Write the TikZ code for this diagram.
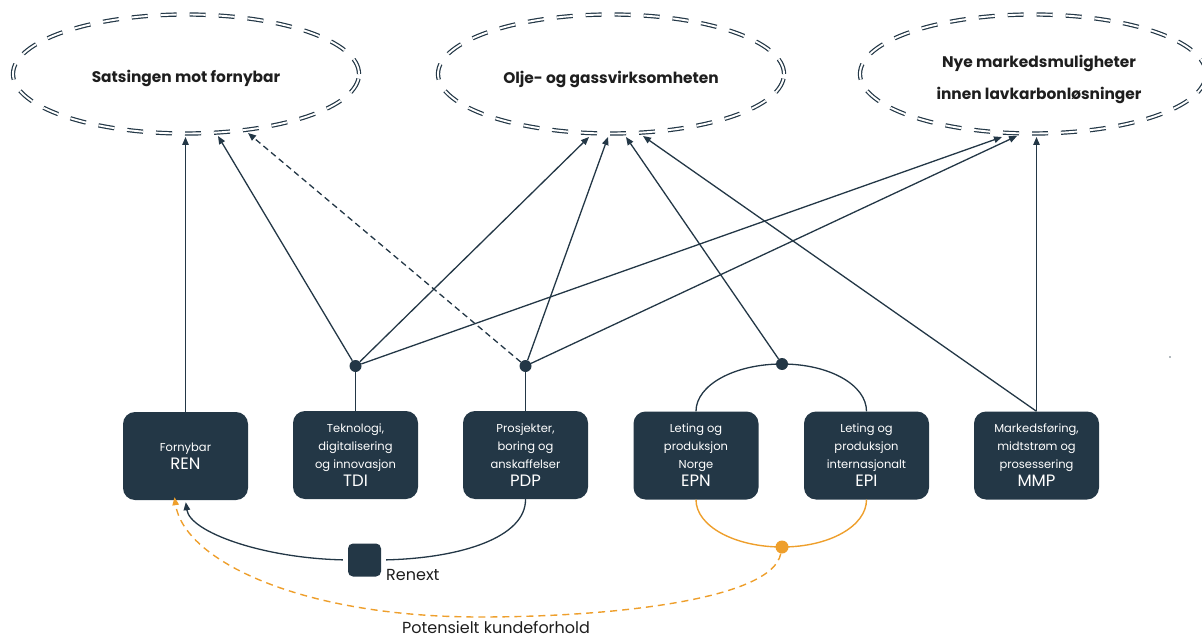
\documentclass[tikz,border=0pt]{standalone}
\usepackage{fontspec}
\setmainfont{Poppins}
\usetikzlibrary{arrows.meta,shapes.geometric}
\definecolor{navy}{HTML}{233746}
\definecolor{amber}{HTML}{EE9F2C}
\definecolor{ink}{HTML}{1E1E1E}
\begin{document}
\begin{tikzpicture}[x=1pt,y=-1pt,
  unit/.style={fill=navy, rounded corners=12pt, minimum width=125pt, minimum height=88pt,
    inner sep=2pt, text=white, align=center, font=\fontsize{11.5}{18}\selectfont},
  goal/.style={ellipse, draw=navy, line width=1.2pt, double=white, double distance=1.9pt,
    dash pattern=on 16pt off 13pt, minimum width=346pt, minimum height=119pt, inner sep=0pt},
  goaltext/.style={align=center, text=ink, inner sep=0pt, font=\bfseries\fontsize{15.4}{32}\selectfont},
  link/.style={draw=navy, line width=1.3pt},
  arr/.style={link, -{Triangle[length=8pt,width=6.5pt]}},
  hub/.style={circle, fill=navy, minimum size=12pt, inner sep=0pt},
  warm/.style={draw=amber, line width=1.4pt},
  plain/.style={text=ink, font=\fontsize{16}{18}\selectfont, inner sep=0pt}
]
\useasboundingbox (0,0) rectangle (1202,639);
\newcommand\unitcode[1]{{\fontsize{16.5}{19}\selectfont #1}}

% strategic goals
\node[goal] (gren) at (186,74) {};
\node[goal] (goil) at (611,74) {};
\node[goal] (gnew) at (1033,74) {};
\node[goaltext] (tren) at (186,78) {Satsingen mot fornybar};
\node[goaltext] (toil) at (611,79) {Olje- og gassvirksomheten};
\node[goaltext] (tnew) at (1039,79) {Nye markedsmuligheter\\innen lavkarbonløsninger};

% arrow targets on the goal outlines
\coordinate (f1) at (185.5,137);
\coordinate (f2) at (218,136);
\coordinate (f3) at (248,133);
\coordinate (o1) at (589,137);
\coordinate (o2) at (608,137);
\coordinate (o3) at (626,137);
\coordinate (o4) at (643,136);
\coordinate (n1) at (1002,137);
\coordinate (n2) at (1017,136);
\coordinate (n3) at (1036.5,137);

% business areas
\node[unit] (ren) at (185.5,456) {Fornybar\\\unitcode{REN}};
\node[unit] (tdi) at (355.5,455) {Teknologi,\\digitalisering\\og innovasjon\\\unitcode{TDI}};
\node[unit] (pdp) at (525.5,455) {Prosjekter,\\boring og\\anskaffelser\\\unitcode{PDP}};
\node[unit] (epn) at (696,455.5) {Leting og\\produksjon\\Norge\\\unitcode{EPN}};
\node[unit] (epi) at (866.5,455.5) {Leting og\\produksjon\\internasjonalt\\\unitcode{EPI}};
\node[unit] (mmp) at (1036.5,455.5) {Markedsføring,\\midtstrøm og\\prosessering\\\unitcode{MMP}};

% junction points
\node[hub] (hT) at (355.5,366) {};
\node[hub] (hP) at (525.5,366) {};
\node[hub] (hE) at (782,364) {};
\node[circle, fill=amber, minimum size=13pt, inner sep=0pt] (hO) at (782,547) {};

% Renext
\node[fill=navy, rounded corners=5pt, minimum width=33pt, minimum height=33pt, inner sep=0pt] (rx) at (364.5,560) {};
\node[plain, anchor=west] (rxl) at (386,575) {Renext};

% links to the goals
\draw[arr] (ren.north) -- (f1);
\draw[link] (tdi.north) -- (hT);
\draw[link] (pdp.north) -- (hP);
\draw[arr] (hT) -- (f2);
\draw[arr] (hT) -- (o1);
\draw[arr] (hT) -- (n1);
\draw[arr, dash pattern=on 6pt off 4pt] (hP) -- (f3);
\draw[arr] (hP) -- (o2);
\draw[arr] (hP) -- (n2);
\draw[arr] (hE) -- (o3);
\draw[arr] (mmp.north) -- (o4);
\draw[arr] (mmp.north) -- (n3);

% exploration and production pair
\draw[link] (epn.north) .. controls (696,385) and (734.5,364) .. (hE.center)
  .. controls (829.5,364) and (866.5,385) .. (epi.north);
\draw[warm] (epn.south) .. controls (696,526) and (734.5,547) .. (hO.center)
  .. controls (829.5,547) and (866.5,526) .. (epi.south);

% Renext link
\draw[link, shorten >=5pt] (pdp.south) .. controls (526,537) and (462,558) .. (rx.east);
\draw[arr, shorten <=5pt, shorten >=2pt] (rx.west) .. controls (262,558) and (190,532) .. (ren.south);

% potential customer relation
\coordinate (low) at (480,617);
\draw[warm, dash pattern=on 7pt off 5pt, -{Triangle[length=8pt,width=6.5pt]}]
  (hO) .. controls (772,600) and (610,617) .. (low)
  .. controls (300,617) and (184,560) .. ([xshift=-11pt,yshift=3pt]ren.south);
\node[plain] (pk) at (496,627.5) {Potensielt kundeforhold};

\fill[navy!70] (1170,357) circle (0.9pt);
\end{tikzpicture}
\end{document}
